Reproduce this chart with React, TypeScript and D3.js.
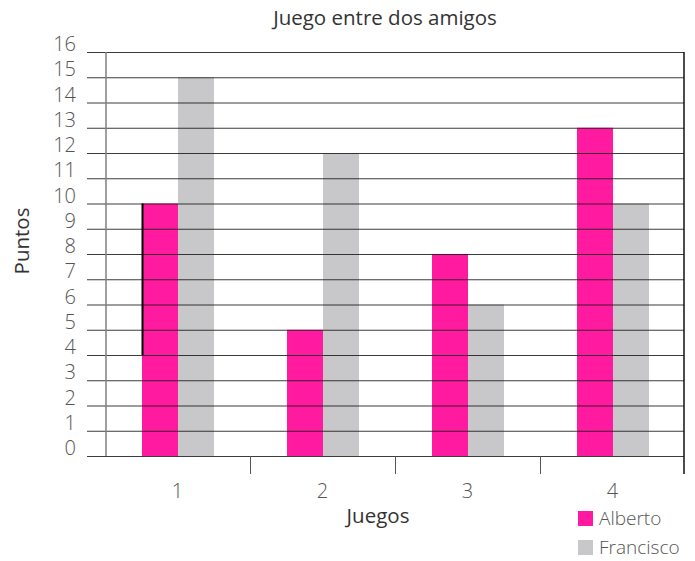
import React from "react";
import * as d3 from "d3";

const categories = ["1", "2", "3", "4"];
const seriesNames = ["Alberto", "Francisco"];
const alberto = [10, 5, 8, 13];
const francisco = [15, 12, 6, 10];
const yTicks = d3.range(0, 17);
const colors = ["#ff1aa0", "#c8c8ca"];

const W = 695;
const H = 561;

export default function App() {
  const x = d3.scaleBand<string>().domain(categories).range([105, 685]).paddingInner(0).paddingOuter(0);
  const inner = d3.scaleBand<string>().domain(seriesNames).range([37, 109]);
  const y = d3.scaleLinear().domain([0, 16]).range([456, 52]);
  const series = [alberto, francisco];
  const font = "'Open Sans', 'Noto Sans', sans-serif";

  return (
    <svg width={W} height={H} style={{ position: "absolute", left: 0, top: 0, background: "#fff" }}>
      <text x={385} y={25} textAnchor="middle" fontFamily={font} fontSize={20.5} fill="#333">
        Juego entre dos amigos
      </text>
      {/* bars */}
      {categories.map((c, i) =>
        seriesNames.map((s, k) => (
          <rect
            key={c + s}
            x={(x(c) as number) + (inner(s) as number)}
            y={y(series[k][i])}
            width={inner.bandwidth()}
            height={y(0) - y(series[k][i])}
            fill={colors[k]}
          />
        ))
      )}
      {/* gridlines */}
      {yTicks.map((t) => (
        <line key={t} x1={87} x2={684} y1={y(t) + 0.5} y2={y(t) + 0.5} stroke="#1a1a1a" strokeWidth={1.2} strokeOpacity={0.85} />
      ))}
      {/* vertical axis line */}
      <line x1={106} x2={106} y1={y(16)} y2={y(0)} stroke="#808080" strokeWidth={1.5} />
      {/* right border */}
      <line x1={684} x2={684} y1={y(16)} y2={y(0) + 18} stroke="#111" strokeWidth={1.5} />
      {/* odd black segment */}
      <line x1={142.5} x2={142.5} y1={y(10)} y2={y(4)} stroke="#000" strokeWidth={2} />
      {/* category ticks */}
      {categories.slice(1).map((c) => (
        <line key={c} x1={(x(c) as number) + 0.5} x2={(x(c) as number) + 0.5} y1={y(0)} y2={y(0) + 18} stroke="#555" strokeWidth={1} />
      ))}
      {/* y tick labels */}
      {yTicks.map((t) => (
        <text key={t} x={76} y={y(t) - 1} textAnchor="end" fontFamily={font} fontWeight={300} fontSize={20} fill="#555">
          {t}
        </text>
      ))}
      {/* x tick labels */}
      {categories.map((c) => (
        <text key={c} x={(x(c) as number) + x.bandwidth() / 2} y={498} textAnchor="middle" fontFamily={font} fontWeight={300} fontSize={20} fill="#555">
          {c}
        </text>
      ))}
      <text x={378} y={523} textAnchor="middle" fontFamily={font} fontSize={20.5} fill="#333">
        Juegos
      </text>
      <text transform={`translate(29,241) rotate(-90)`} textAnchor="middle" fontFamily={font} fontSize={20.5} fill="#333">
        Puntos
      </text>
      {/* legend */}
      {seriesNames.map((s, k) => (
        <g key={s} transform={`translate(578,${511 + k * 29})`}>
          <rect x={0} y={0} width={15} height={15} fill={colors[k]} />
          <text x={21} y={14} fontFamily={font} fontWeight={300} fontSize={19} fill="#555">
            {s}
          </text>
        </g>
      ))}
    </svg>
  );
}
